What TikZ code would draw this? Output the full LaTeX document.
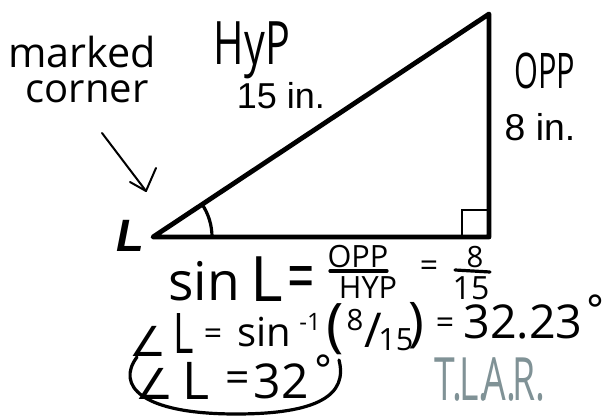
\documentclass[tikz,border=0pt]{standalone}
\usepackage{fontspec}
\usepackage{graphicx}
\setmainfont{Open Sans}
\newfontfamily\arialf{Liberation Sans}
\newfontfamily\dvs{DejaVu Sans}
\definecolor{tlar}{RGB}{128,146,150}
\newcommand\fs[1]{\fontsize{#1}{#1}\selectfont}
\begin{document}
\begin{tikzpicture}[x=0.75pt,y=-0.75pt,
  txt/.style={inner sep=0pt, anchor=center},
  tri/.style={line width=3.6pt, line join=round, line cap=round},
  thinln/.style={line width=1.5pt, line cap=round, line join=round},
  hand/.style={line width=2.4pt, line cap=round}]
\fill[white] (0,0) rectangle (610,416);
\useasboundingbox (0,0) rectangle (610,416);
% triangle
\coordinate (L) at (153,237);
\coordinate (T) at (489,14);
\coordinate (R) at (489,237);
\draw[tri] (L) -- (T) -- (R) -- cycle;
\coordinate (sq1) at (462,237);
\coordinate (sq2) at (462,210);
\coordinate (sq3) at (489,210);
\draw[line width=2.2pt] (sq1) -- (sq2) -- (sq3);
\coordinate (a0) at (212,237);
\draw[hand] (a0) arc[start angle=0, end angle=33.6, radius=44.25pt];
% arrow
\coordinate (ar0) at (102,133);
\coordinate (ar1) at (146,191);
\coordinate (arl) at (130,182);
\coordinate (arr) at (156,168);
\draw[thinln] (ar0) -- (ar1);
\draw[thinln] (arl) -- (ar1) -- (arr);
% labels
\node[txt] (mk) at (82,52) {\fs{31}marked};
\node[txt] (cn) at (87,92) {\fs{30}corner};
\node[txt] (hyp) at (252,50) {\scalebox{1}[1.45]{\fs{31}HyP}};
\node[txt] (l15) at (281,96) {\arialf\fs{27}15 in.};
\node[txt] (opp) at (545,71) {\scalebox{1}[1.6]{\fs{23}OPP}};
\node[txt] (l8) at (540,127) {\arialf\fs{28}8 in.};
\node[txt] (Lv) at (130,236) {\arialf\bfseries\itshape\fs{34}L};
% line 1
\node[txt] (s1) at (204,281) {\fs{40}sin};
\node[txt] (L1) at (267,279) {\fs{47}L};
\node[txt] (e1) at (301,284) {\scalebox{1}[1.5]{\fs{36}=}};
\node[txt] (opp1) at (358,257) {\fs{23}OPP};
\node[txt] (hyp1) at (368,288) {\fs{23}HYP};
\coordinate (b1a) at (330,271);
\coordinate (b1b) at (387,271);
\draw[hand] (b1a) -- (b1b);
\node[txt] (e2) at (429,269) {\fs{24}=};
\node[txt] (n8) at (475,257) {\fs{22}8};
\node[txt] (n15) at (471,288) {\fs{24}15};
\coordinate (b2a) at (455,270);
\coordinate (b2b) at (490,272);
\draw[hand] (b2a) -- (b2b);
% line 2
\node[txt] (an2) at (148,341) {\dvs\fs{31}∠};
\node[txt] (L2) at (184,334) {\scalebox{0.7}[1]{\fs{42}L}};
\node[txt] (e3) at (213,337) {\fs{24}=};
\node[txt] (s2) at (264,332) {\fs{30}sin};
\node[txt] (m1) at (310,322) {\fs{18}-1};
\node[inner sep=0pt, anchor=base west] (frac2) at (326,345) {{\fs{44}(}\kern2.2pt\raisebox{11pt}{\fs{22}8}\kern1pt\raisebox{-2pt}{\fs{36}/}\kern-3pt\raisebox{-3.8pt}{\fs{23}15}\kern-4pt\raisebox{3pt}{\fs{40})}};
\node[txt] (e4) at (445,326) {\fs{24}=};
\node[txt] (v1) at (523,322) {\fs{35}32.23};
\node[txt] (dg1) at (595,310) {\dvs\fs{30}°};
% line 3
\node[txt] (an3) at (155,384) {\dvs\fs{32}∠};
\node[txt] (L3) at (196,381) {\fs{39}L};
\node[txt] (e5) at (238,382) {\fs{32}=};
\node[txt] (v2) at (281,381) {\fs{36}32};
\node[txt] (dg2) at (323,370) {\dvs\fs{30}°};
\coordinate (el0) at (137,357);
\coordinate (el1) at (236,414);
\coordinate (el2) at (339,360);
\draw[hand] (el0) .. controls (116,385) and (140,414) .. (el1) .. controls (318,414) and (348,395) .. (el2);
% TLAR
\node[txt, text=tlar] (tl) at (490,380) {\scalebox{1}[1.6]{\fs{28}T.\kern-.1em L.\kern-.15em A.\kern-.1em R.}};
\end{tikzpicture}
\end{document}
